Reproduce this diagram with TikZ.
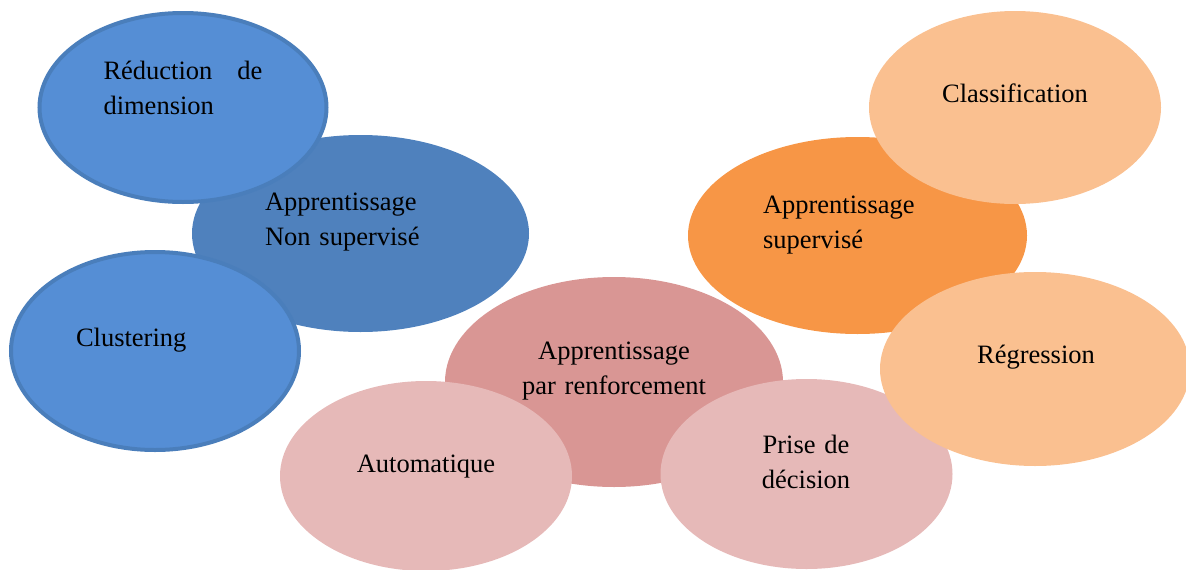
\documentclass[tikz,border=0pt]{standalone}
\usepackage{fontspec}
\setmainfont{Liberation Serif}
\usetikzlibrary{shapes.geometric}
\definecolor{nonsupC}{HTML}{4F81BD}
\definecolor{lightblueC}{HTML}{558ED5}
\definecolor{blueborderC}{HTML}{4A7EBB}
\definecolor{renfC}{HTML}{D99694}
\definecolor{pinkC}{HTML}{E6B9B8}
\definecolor{supC}{HTML}{F79646}
\definecolor{peachC}{HTML}{FAC090}
\newcommand{\diagfont}{\fontsize{26.5}{35}\selectfont}
\tikzset{
  blob/.style={ellipse, inner sep=0pt, outer sep=0pt},
  mainblob/.style={blob, fill=#1},
  subblob/.style={blob, fill=lightblueC, draw=blueborderC, line width=4pt},
  lbl/.style={inner sep=0pt, outer sep=0pt, font=\diagfont, text=black}
}
\begin{document}
\begin{tikzpicture}[x=1pt, y=-1pt]
\useasboundingbox (0,0) rectangle (1186,570);
% blue group
\node[mainblob=nonsupC, minimum width=337pt, minimum height=197pt] (nonsup) at (360.5,233.5) {};
\node[subblob, minimum width=287pt, minimum height=189pt] (reduc) at (183,107.5) {};
\node[subblob, minimum width=288pt, minimum height=198pt] (clust) at (155,351) {};
% pink group
\node[mainblob=renfC, minimum width=338pt, minimum height=210pt] (renf) at (614,382) {};
\node[mainblob=pinkC, minimum width=292pt, minimum height=190pt] (auto) at (426,476) {};
\node[mainblob=pinkC, minimum width=292pt, minimum height=190pt] (prise) at (806.5,474) {};
% orange group
\node[mainblob=supC, minimum width=339pt, minimum height=197pt] (sup) at (857.5,235.5) {};
\node[mainblob=peachC, minimum width=292pt, minimum height=193pt] (classif) at (1015,107.5) {};
\node[mainblob=peachC, minimum width=310pt, minimum height=194pt] (regr) at (1035,369) {};
% labels
\node[lbl, anchor=base west, text width=160pt, align=left] (treduc) at (103.5,79) {\hbox to 159pt{Réduction\hfill de}\\dimension};
\node[lbl, anchor=base west, text width=170pt, align=left] (tnonsup) at (265,210) {Apprentissage\\Non supervisé};
\node[lbl, anchor=base west] (tclust) at (76,346) {Clustering};
\node[lbl, anchor=base, text width=220pt, align=center] (trenf) at (614,359) {Apprentissage\\par renforcement};
\node[lbl, anchor=base] (tauto) at (426,472) {Automatique};
\node[lbl, anchor=base, text width=160pt, align=center] (tprise) at (806,453) {Prise de\\décision};
\node[lbl, anchor=base west, text width=170pt, align=left] (tsup) at (763,213) {Apprentissage\\supervisé};
\node[lbl, anchor=base] (tclassif) at (1015,102) {Classification};
\node[lbl, anchor=base] (tregr) at (1036,363) {Régression};
\end{tikzpicture}
\end{document}
